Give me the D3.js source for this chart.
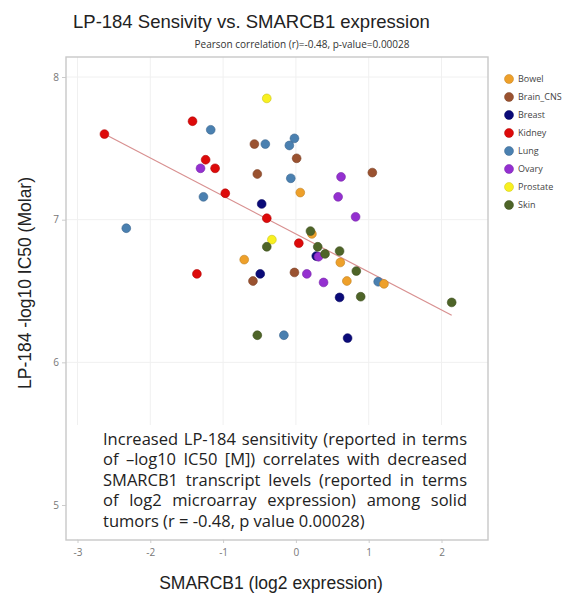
<!DOCTYPE html>
<html>
<head>
<meta charset="utf-8">
<script src="https://cdn.jsdelivr.net/npm/d3@7.9.0/dist/d3.min.js"></script>
<style>
  body { margin: 0; background: #fff; }
  svg { display: block; }
</style>
</head>
<body>
<svg id="chart" width="574" height="595"></svg>
<script>
// tissue categories and their colours
const tissues = ['Bowel', 'Brain_CNS', 'Breast', 'Kidney', 'Lung', 'Ovary', 'Prostate', 'Skin'];
const tissueColors = ['#eea02a', '#9a5230', '#0a0a78', '#dd0a0a', '#4a80b0', '#9430d0', '#f8f020', '#4e6428'];

// [SMARCB1 log2 expression, LP-184 -log10 IC50] per tissue
const bowel = [[-0.71, 6.72], [0.06, 7.19], [0.22, 6.90], [0.61, 6.70], [0.70, 6.57], [1.21, 6.55]];
const brainCNS = [[-0.57, 7.53], [-0.53, 7.32], [0.01, 7.43], [1.05, 7.33], [-0.59, 6.57], [-0.02, 6.63]];
const breast = [[-0.47, 7.11], [-0.49, 6.62], [0.60, 6.455], [0.71, 6.17], [0.28, 6.745]];
const kidney = [[-2.63, 7.60], [-1.42, 7.69], [-1.24, 7.42], [-1.11, 7.36], [-0.97, 7.185], [-0.40, 7.01], [0.04, 6.835], [-1.36, 6.62]];
const lung = [[-1.17, 7.63], [-0.42, 7.53], [-0.02, 7.57], [-0.09, 7.52], [-0.07, 7.29], [-1.27, 7.16], [-2.33, 6.94], [1.13, 6.565], [-0.165, 6.19]];
const ovary = [[-1.31, 7.36], [0.62, 7.30], [0.58, 7.16], [0.82, 7.02], [0.31, 6.74], [0.15, 6.62], [0.38, 6.56]];
const prostate = [[-0.40, 7.85], [-0.33, 6.86]];
const skin = [[-0.40, 6.81], [0.20, 6.92], [0.30, 6.81], [0.40, 6.76], [0.60, 6.78], [0.83, 6.64], [0.89, 6.46], [2.14, 6.42], [-0.53, 6.19]];

const seriesByTissue = { Bowel: bowel, Brain_CNS: brainCNS, Breast: breast, Kidney: kidney, Lung: lung, Ovary: ovary, Prostate: prostate, Skin: skin };
// order the points are stacked in
const drawOrder = ['Lung', 'Breast', 'Brain_CNS', 'Bowel', 'Kidney', 'Ovary', 'Prostate', 'Skin'];

// fitted line end points
const fitX = [-2.63, 2.14];
const fitY = [7.60, 6.33];

const xTicks = [-3, -2, -1, 0, 1, 2];
const yTicks = [5, 6, 7, 8];

const noteLines = [
  'Increased LP-184 sensitivity (reported in terms',
  'of \u2013log10 IC50 [M]) correlates with decreased',
  'SMARCB1 transcript levels (reported in terms',
  'of log2 microarray expression) among solid',
  'tumors (r = -0.48, p value 0.00028)'
];

const svg = d3.select('#chart');
const sans = 'Liberation Sans, Arial, sans-serif';
const open = 'Open Sans, sans-serif';

// plot frame
const frame = { left: 66, right: 488, top: 57, bottom: 540 };

const x = d3.scaleLinear().domain([-3, 2]).range([77.5, 441.5]);
const y = d3.scaleLinear().domain([5, 8]).range([505, 77]);
const color = d3.scaleOrdinal().domain(tissues).range(tissueColors);

// grid
const grid = svg.append('g');
grid.selectAll('.gx').data(xTicks).join('line')
  .attr('x1', d => x(d)).attr('x2', d => x(d))
  .attr('y1', frame.top).attr('y2', frame.bottom)
  .attr('stroke', '#f0f0f0').attr('stroke-width', 1);
grid.selectAll('.gy').data(yTicks).join('line')
  .attr('x1', frame.left).attr('x2', frame.right)
  .attr('y1', d => y(d)).attr('y2', d => y(d))
  .attr('stroke', '#f0f0f0').attr('stroke-width', 1);

// axes (tick labels only, tiny tick marks)
const yAxis = svg.append('g')
  .attr('transform', `translate(${frame.left},0)`)
  .call(d3.axisLeft(y).tickValues(yTicks).tickSize(4).tickPadding(3).tickFormat(d => String(d)));
const xAxis = svg.append('g')
  .attr('transform', `translate(0,${frame.bottom})`)
  .call(d3.axisBottom(x).tickValues(xTicks).tickSize(3).tickPadding(6).tickFormat(d => String(d)));
[xAxis, yAxis].forEach(a => {
  a.select('.domain').remove();
  a.selectAll('.tick line').attr('stroke', '#ccc');
  a.selectAll('.tick text').attr('fill', '#777').style('font-family', open).style('font-size', '10px');
});

// regression line
svg.append('line')
  .attr('x1', x(fitX[0])).attr('y1', y(fitY[0]))
  .attr('x2', x(fitX[1])).attr('y2', y(fitY[1]))
  .attr('stroke', '#d89090').attr('stroke-width', 1.2);

// points
const points = drawOrder.flatMap(t => seriesByTissue[t].map(p => ({ tissue: t, sx: p[0], sy: p[1] })));
svg.append('g').selectAll('circle').data(points).join('circle')
  .attr('cx', d => x(d.sx))
  .attr('cy', d => y(d.sy))
  .attr('r', 4.4)
  .attr('fill', d => color(d.tissue))
  .attr('stroke', d => d3.color(color(d.tissue)).darker(0.6))
  .attr('stroke-width', 0.6);

// annotation box
svg.append('rect')
  .attr('x', frame.left + 1).attr('y', 425)
  .attr('width', frame.right - frame.left - 2).attr('height', frame.bottom - 426)
  .attr('fill', '#fff');

// justified note: one text per line, spaces widened with word-spacing
const note = svg.append('g').style('font-family', open).style('font-size', '16.5px').attr('fill', '#222');
const noteLeft = 103, noteRight = 467;
noteLines.forEach((line, i) => {
  const t = note.append('text').attr('x', noteLeft).attr('y', 444.5 + i * 20.5).text(line);
  if (i === noteLines.length - 1) return;
  const spaces = line.split(' ').length - 1;
  const extra = (noteRight - noteLeft - t.node().getComputedTextLength()) / spaces;
  t.style('word-spacing', `${extra}px`);
  // fall back if word-spacing is ignored
  const now = t.node().getComputedTextLength();
  if (Math.abs(now - (noteRight - noteLeft)) > 3) {
    t.style('word-spacing', null)
      .attr('textLength', noteRight - noteLeft)
      .attr('lengthAdjust', 'spacing');
  }
});

// frame
svg.append('rect')
  .attr('x', frame.left).attr('y', frame.top)
  .attr('width', frame.right - frame.left).attr('height', frame.bottom - frame.top)
  .attr('fill', 'none').attr('stroke', '#c8c8c8').attr('stroke-width', 1.4);

// titles
svg.append('text').attr('x', 73).attr('y', 28)
  .style('font-family', sans).style('font-size', '18.5px').attr('fill', '#222')
  .text('LP-184 Sensivity vs. SMARCB1 expression');
svg.append('text').attr('x', 302).attr('y', 48).attr('text-anchor', 'middle')
  .style('font-family', open).style('font-size', '10px').attr('fill', '#333')
  .text('Pearson correlation (r)=-0.48, p-value=0.00028');
svg.append('text').attr('x', 271).attr('y', 589).attr('text-anchor', 'middle')
  .style('font-family', sans).style('font-size', '17.5px').attr('fill', '#222')
  .text('SMARCB1 (log2 expression)');
svg.append('text').attr('transform', 'translate(31,283) rotate(-90)').attr('text-anchor', 'middle')
  .style('font-family', sans).style('font-size', '17.5px').attr('fill', '#222')
  .text('LP-184 -log10 IC50 (Molar)');

// legend
const legend = svg.append('g').selectAll('g').data(tissues).join('g')
  .attr('transform', (d, i) => `translate(509,${79 + i * 18})`);
legend.append('circle').attr('r', 4.5)
  .attr('fill', d => color(d))
  .attr('stroke', d => d3.color(color(d)).darker(0.6)).attr('stroke-width', 0.5);
legend.append('text').attr('x', 9).attr('y', 3.3)
  .style('font-family', open).style('font-size', '9px').attr('fill', '#444')
  .text(d => d);
</script>
</body>
</html>
